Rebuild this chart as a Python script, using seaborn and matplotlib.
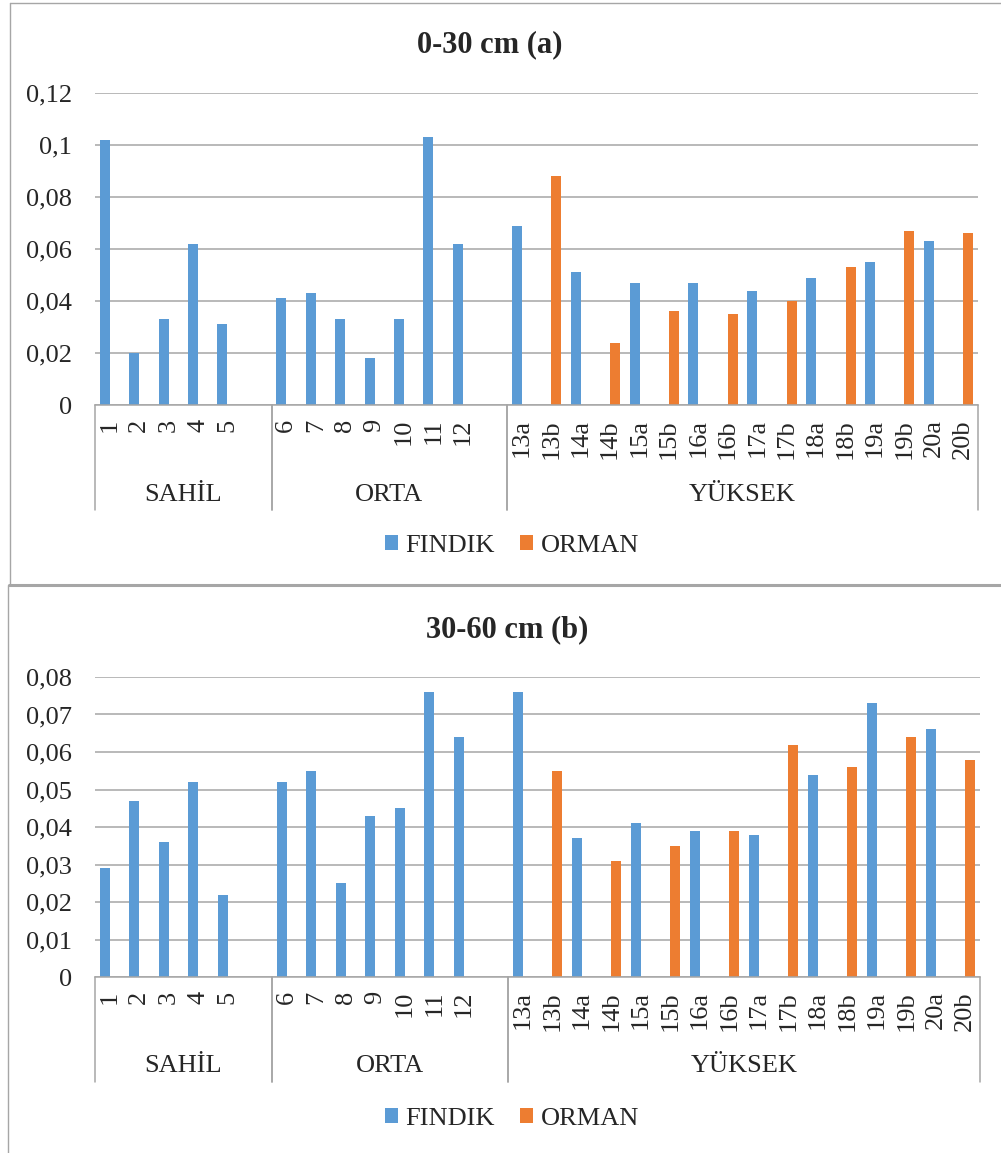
import numpy as np
import pandas as pd
import matplotlib
matplotlib.use("Agg")
import matplotlib.pyplot as plt
import seaborn as sns
from matplotlib.patches import Patch
from matplotlib.lines import Line2D

# ---------------- data ----------------
sites_sahil = ["1", "2", "3", "4", "5"]
sites_orta = ["6", "7", "8", "9", "10", "11", "12"]
sites_yuksek = ["13a", "13b", "14a", "14b", "15a", "15b", "16a", "16b",
                "17a", "17b", "18a", "18b", "19a", "19b", "20a", "20b"]
groups = ["SAHİL", "ORTA", "YÜKSEK"]
series_names = ["FINDIK", "ORMAN"]
nan = np.nan

# 0-30 cm (a)
findik_a = [0.102, 0.020, 0.033, 0.062, 0.031,
            0.041, 0.043, 0.033, 0.018, 0.033, 0.103, 0.062,
            0.069, nan, 0.051, nan, 0.047, nan, 0.047, nan,
            0.044, nan, 0.049, nan, 0.055, nan, 0.063, nan]
orman_a = [nan] * 12 + [nan, 0.088, nan, 0.024, nan, 0.036, nan, 0.035,
                        nan, 0.040, nan, 0.053, nan, 0.067, nan, 0.066]

# 30-60 cm (b)
findik_b = [0.029, 0.047, 0.036, 0.052, 0.022,
            0.052, 0.055, 0.025, 0.043, 0.045, 0.076, 0.064,
            0.076, nan, 0.037, nan, 0.041, nan, 0.039, nan,
            0.038, nan, 0.054, nan, 0.073, nan, 0.066, nan]
orman_b = [nan] * 12 + [nan, 0.055, nan, 0.031, nan, 0.035, nan, 0.039,
                        nan, 0.062, nan, 0.056, nan, 0.064, nan, 0.058]

yticks_a = [0, 0.02, 0.04, 0.06, 0.08, 0.10, 0.12]
yticklabels_a = ["0", "0,02", "0,04", "0,06", "0,08", "0,1", "0,12"]
yticks_b = [0, 0.01, 0.02, 0.03, 0.04, 0.05, 0.06, 0.07, 0.08]
yticklabels_b = ["0", "0,01", "0,02", "0,03", "0,04", "0,05", "0,06", "0,07", "0,08"]

titles = ["0-30 cm (a)", "30-60 cm (b)"]

# ---------------- style ----------------
sns.set_style("white")
plt.rcParams["font.family"] = ["Liberation Serif", "DejaVu Serif"]

W, H = 1001, 1153
fig = plt.figure(figsize=(W / 100, H / 100), dpi=100)

colors = {"FINDIK": "#5B9BD5", "ORMAN": "#ED7D31"}
GRID = "#A6A6A6"
FS = 19

all_sites = sites_sahil + sites_orta + sites_yuksek
order = sites_sahil + [" "] + sites_orta + ["  "] + sites_yuksek
group_bounds = [(-0.5, 5.5), (5.5, 13.5), (13.5, 29.5)]


def px_axes(left, top, right, bottom):
    return fig.add_axes([left / W, 1 - bottom / H, (right - left) / W, (bottom - top) / H])


def draw_panel(ax, findik, orman, yticks, yticklabels, ax_h_px, sep_px, grp_px):
    rows = []
    for s, v in zip(all_sites, findik):
        if not np.isnan(v):
            rows.append((s, "FINDIK", v))
    for s, v in zip(all_sites, orman):
        if not np.isnan(v):
            rows.append((s, "ORMAN", v))
    df = pd.DataFrame(rows, columns=["site", "series", "value"])
    sns.barplot(data=df, x="site", y="value", hue="series", order=order,
                hue_order=series_names, palette=colors, width=0.68, dodge=True,
                errorbar=None, legend=False, linewidth=0, saturation=1, ax=ax)
    ax.set_xlim(-0.5, len(order) - 0.5)
    ax.set_ylim(yticks[0], yticks[-1])
    ax.set_yticks(yticks)
    ax.set_yticklabels(yticklabels, fontsize=FS)
    ax.set_xticks(range(len(order)))
    ax.set_xticklabels([o.strip() for o in order], rotation=90, fontsize=FS)
    ax.tick_params(axis="y", length=0, pad=16.5)
    ax.tick_params(axis="x", length=0, pad=10)
    ax.set_xlabel("")
    ax.set_ylabel("")
    ax.yaxis.grid(True, color=GRID, linewidth=1.1)
    ax.set_axisbelow(True)
    for sp in ["left", "right", "top"]:
        ax.spines[sp].set_visible(False)
    ax.spines["bottom"].set_color(GRID)
    ax.spines["bottom"].set_linewidth(1.1)
    # multi-level category axis
    tr = ax.get_xaxis_transform()
    ysep = -sep_px / ax_h_px
    ygrp = -grp_px / ax_h_px
    for (a, b), g in zip(group_bounds, groups):
        for xx in (a, b):
            ax.add_line(Line2D([xx, xx], [0, ysep], transform=tr, color=GRID,
                               linewidth=1.1, clip_on=False))
        ax.text((a + b) / 2, ygrp, g, transform=tr, ha="center", va="center",
                fontsize=FS)


# top panel
ax1 = px_axes(95, 93, 978, 405)
draw_panel(ax1, findik_a, orman_a, yticks_a, yticklabels_a, 312, 105, 90)
# bottom panel
ax2 = px_axes(95, 677, 980, 977)
draw_panel(ax2, findik_b, orman_b, yticks_b, yticklabels_b, 300, 105, 89)

# titles
fig.text(490 / W, 1 - 45 / H, titles[0], ha="center", va="center",
         fontsize=22, fontweight="bold")
fig.text(507 / W, 1 - 630 / H, titles[1], ha="center", va="center",
         fontsize=22, fontweight="bold")

# legends
handles = [Patch(facecolor=colors[s], edgecolor="none", label=s) for s in series_names]
for ycen in (546, 1119):
    fig.legend(handles=handles, loc="center", bbox_to_anchor=(512 / W, 1 - ycen / H),
               ncol=2, frameon=False, fontsize=FS, handlelength=0.5,
               handleheight=0.5, handletextpad=0.28, columnspacing=0.95,
               borderpad=0)

# chart area borders (two stacked, cropped chart frames)
def fline(xs, ys, lw):
    fig.add_artist(Line2D([x / W for x in xs], [1 - y / H for y in ys],
                          color=GRID, linewidth=lw, transform=fig.transFigure))

fline([9.5, W + 5], [2.5, 2.5], 1.0)
fline([9.5, 9.5], [2.5, 585], 1.0)
fline([9, W + 5], [585, 585], 2.2)
fline([7.5, 7.5], [585, H + 5], 1.0)

fig.savefig("out.png", dpi=100, facecolor="white")
